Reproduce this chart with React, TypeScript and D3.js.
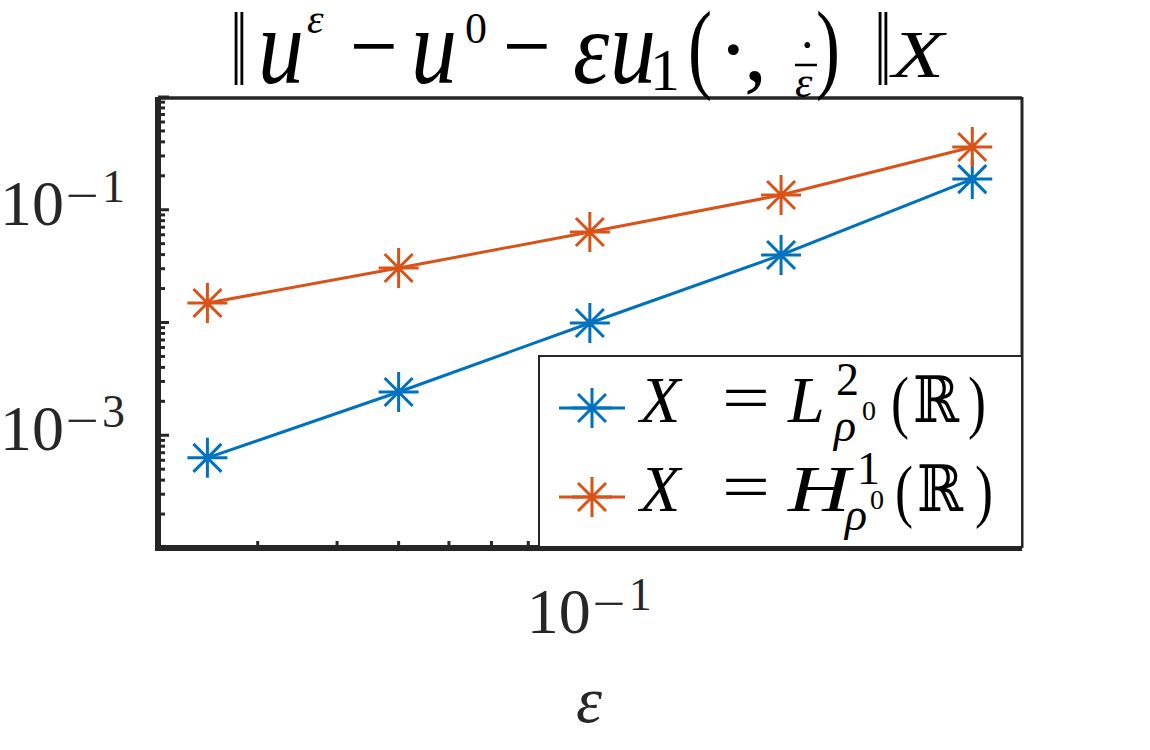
import * as d3 from "d3";

// epsilon values and the two error norms
const epsValues = [0.025, 0.05, 0.1, 0.2, 0.4];
const errL2 = [6.3e-4, 2.42e-3, 9.9e-3, 0.0397, 0.187];
const errH1 = [0.0149, 0.0304, 0.0635, 0.135, 0.36];

const seriesNames = ["L2", "H1"];
const seriesColors = ["#0072BD", "#D95319"];

const yTickLabels = [
  { value: 1e-1, exp: "1" },
  { value: 1e-3, exp: "3" },
];
const xTickLabels = [{ value: 1e-1, exp: "1" }];

const W = 1150;
const H = 750;
const box = { left: 158, right: 1022, top: 97, bottom: 548 };
const axisColor = "#262626";
const serif = "'Liberation Serif', 'DejaVu Serif', serif";
const dejavu = "'DejaVu Serif', serif";

const x = d3.scaleLog().domain([0.0209, 0.479]).range([box.left, box.right]);
const y = d3.scaleLog().domain([1e-4, 1]).range([box.bottom, box.top]);

const star = "M-20,0H20M0,-20V20M-14,-14L14,14M-14,14L14,-14";

type Piece = {
  t: string;
  x: number;
  y: number;
  s: number;
  it?: boolean;
  fam?: string;
  len?: number;
  sy?: number;
};

function MathText({ pieces, fill = "#000" }: { pieces: Piece[]; fill?: string }) {
  return (
    <g fill={fill}>
      {pieces.map((p, i) => (
        <text
          key={i}
          x={p.x}
          y={p.y}
          fontSize={p.s}
          fontStyle={p.it ? "italic" : "normal"}
          fontFamily={p.fam || serif}
          textLength={p.len}
          lengthAdjust={p.len ? "spacingAndGlyphs" : undefined}
          transform={p.sy ? `translate(0,${p.y}) scale(1,${p.sy}) translate(0,${-p.y})` : undefined}
        >
          {p.t}
        </text>
      ))}
    </g>
  );
}

// "10^{-n}" laid out as pieces, x0 = left edge, yb = baseline of "10"
function tickLabel(x0: number, yb: number, exp: string): Piece[] {
  return [
    { t: "10", x: x0, y: yb, s: 64, len: 64 },
    { t: "\u2212", x: x0 + 66, y: yb - 14, s: 46, len: 33 },
    { t: exp, x: x0 + 102, y: yb - 23, s: 46 },
  ];
}

const titlePieces: Piece[] = [
  { t: "\u2016", x: 230, y: 68, s: 72, fam: dejavu, len: 18 },
  { t: "u", x: 258, y: 83, s: 92, it: true, sy: 1.18 },
  { t: "\u03b5", x: 307, y: 33, s: 42, it: true },
  { t: "\u2212", x: 350, y: 77, s: 92, len: 48 },
  { t: "u", x: 411, y: 83, s: 92, it: true, sy: 1.18 },
  { t: "0", x: 465, y: 43, s: 44 },
  { t: "\u2212", x: 503, y: 77, s: 92, len: 48 },
  { t: "\u03b5", x: 573, y: 83, s: 92, it: true, sy: 1.12 },
  { t: "u", x: 610, y: 83, s: 92, it: true, sy: 1.18 },
  { t: "1", x: 650, y: 90, s: 60 },
  { t: "(", x: 688, y: 80, s: 100, len: 24 },
  { t: "\u00b7", x: 718, y: 80, s: 92 },
  { t: ",", x: 744, y: 80, s: 92 },
  { t: "\u00b7", x: 799, y: 62, s: 50 },
  { t: "\u03b5", x: 795, y: 97, s: 44, it: true },
  { t: ")", x: 816, y: 80, s: 100, len: 24 },
  { t: "\u2016", x: 874, y: 68, s: 72, fam: dejavu, len: 18 },
  { t: "X", x: 892, y: 77, s: 68, it: true, len: 52 },
];

function legendPieces(row: number): Piece[] {
  const b = 422 + row * 89;
  if (row === 0) {
    return [
      { t: "X", x: 640, y: b, s: 66, it: true },
      { t: "=", x: 722, y: b - 2, s: 66, len: 48 },
      { t: "L", x: 788, y: b, s: 66, it: true },
      { t: "2", x: 836, y: b - 27, s: 46 },
      { t: "\u03c1", x: 834, y: b + 19, s: 46, it: true },
      { t: "0", x: 862, y: b - 2, s: 28 },
      { t: "(", x: 891, y: b + 3, s: 70, len: 18 },
      { t: "\u211d", x: 913, y: b, s: 64, fam: dejavu, len: 46 },
      { t: ")", x: 968, y: b + 3, s: 70, len: 18 },
    ];
  }
  return [
    { t: "X", x: 640, y: b, s: 66, it: true },
    { t: "=", x: 722, y: b - 2, s: 66, len: 48 },
    { t: "H", x: 788, y: b, s: 66, it: true, len: 62 },
    { t: "1", x: 857, y: b - 27, s: 46 },
    { t: "\u03c1", x: 845, y: b + 19, s: 46, it: true },
    { t: "0", x: 870, y: b - 2, s: 28 },
    { t: "(", x: 895, y: b + 3, s: 70, len: 18 },
    { t: "\u211d", x: 917, y: b, s: 64, fam: dejavu, len: 46 },
    { t: ")", x: 975, y: b + 3, s: 70, len: 18 },
  ];
}

export default function App() {
  const series = [errL2, errH1].map((vals, i) => ({
    name: seriesNames[i],
    color: seriesColors[i],
    pts: epsValues.map((e, j) => ({ e, v: vals[j] })),
  }));

  const line = d3
    .line<{ e: number; v: number }>()
    .x((d) => x(d.e))
    .y((d) => y(d.v));

  const isMajor = (v: number) => Math.abs(Math.log10(v) - Math.round(Math.log10(v))) < 1e-6;
  const yTicks = y.ticks();
  const xTicks = x.ticks();

  return (
    <svg
      width={W}
      height={H}
      viewBox={`0 0 ${W} ${H}`}
      style={{ position: "absolute", left: 0, top: 0, background: "#fff" }}
    >
      <rect x={0} y={0} width={W} height={H} fill="#fff" />

      {/* axis box: thin top/right, heavy left/bottom */}
      <line x1={box.left} x2={box.right} y1={box.top + 1} y2={box.top + 1} stroke={axisColor} strokeWidth={3.5} />
      <line x1={box.right} x2={box.right} y1={box.top} y2={box.bottom} stroke={axisColor} strokeWidth={3} />

      {/* series */}
      {series.map((s) => (
        <g key={s.name}>
          <path d={line(s.pts) || ""} fill="none" stroke={s.color} strokeWidth={3} />
          {s.pts.map((p, i) => (
            <path
              key={i}
              d={star}
              transform={`translate(${x(p.e)},${y(p.v)})`}
              fill="none"
              stroke={s.color}
              strokeWidth={3}
            />
          ))}
        </g>
      ))}

      {/* ticks */}
      {yTicks.map((t, i) => (
        <line
          key={"y" + i}
          x1={box.left}
          x2={box.left + (isMajor(t) ? 11 : 7)}
          y1={y(t)}
          y2={y(t)}
          stroke={axisColor}
          strokeWidth={3}
        />
      ))}
      {xTicks.map((t, i) => (
        <line
          key={"x" + i}
          x1={x(t)}
          x2={x(t)}
          y1={box.bottom}
          y2={box.bottom - (isMajor(t) ? 11 : 7)}
          stroke={axisColor}
          strokeWidth={3}
        />
      ))}
      <line x1={box.left} x2={box.left} y1={box.top} y2={box.bottom + 3} stroke={axisColor} strokeWidth={6} />
      <line x1={box.left - 3} x2={box.right} y1={box.bottom} y2={box.bottom} stroke={axisColor} strokeWidth={6} />

      {/* tick labels */}
      {yTickLabels.map((l) => (
        <MathText key={"yl" + l.exp} fill={axisColor} pieces={tickLabel(0, y(l.value) + 15, l.exp)} />
      ))}
      {xTickLabels.map((l) => (
        <MathText key={"xl" + l.exp} fill={axisColor} pieces={tickLabel(x(l.value) - 63, 633, l.exp)} />
      ))}

      {/* x label */}
      <text x={589} y={722} textAnchor="middle" fontFamily={serif} fontStyle="italic" fontSize={66} fill={axisColor}>
        {"\u03b5"}
      </text>

      {/* title */}
      <MathText pieces={titlePieces} />
      <line x1={795} x2={817} y1={65} y2={65} stroke="#000" strokeWidth={2.5} />

      {/* legend */}
      <rect x={539} y={356} width={483} height={191} fill="#fff" stroke={axisColor} strokeWidth={2} />
      {series.map((s, i) => (
        <g key={"lg" + s.name}>
          <line x1={559} x2={625} y1={408 + i * 89} y2={408 + i * 89} stroke={s.color} strokeWidth={3} />
          <path d={star} transform={`translate(592,${408 + i * 89})`} fill="none" stroke={s.color} strokeWidth={3} />
          <MathText pieces={legendPieces(i)} />
        </g>
      ))}
    </svg>
  );
}
